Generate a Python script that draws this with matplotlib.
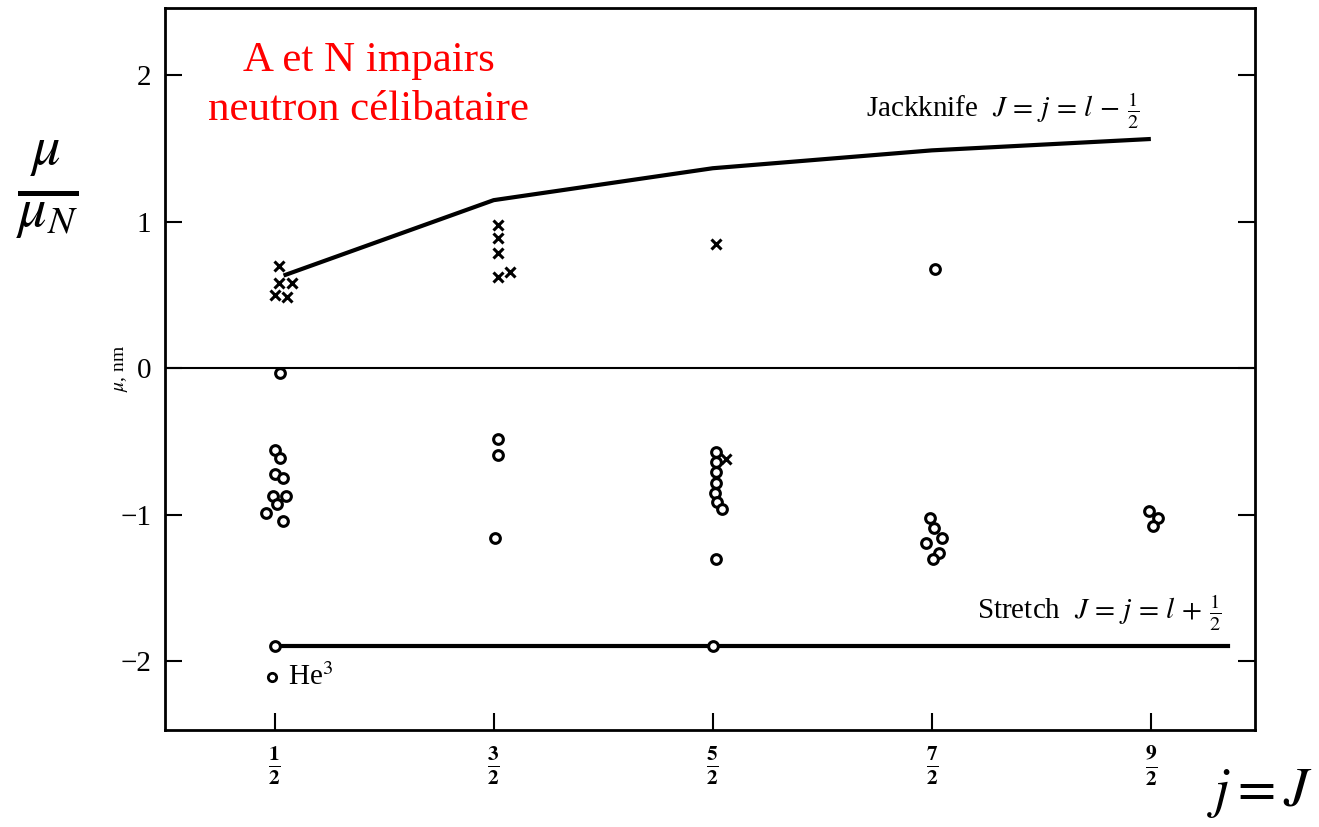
import numpy as np
import matplotlib.pyplot as plt

plt.rcParams['font.family'] = ['Liberation Serif', 'DejaVu Serif']
plt.rcParams['mathtext.fontset'] = 'stix'

# Schmidt lines (odd neutron)
jack_J = [0.55, 1.5, 2.5, 3.5, 4.49]
jack_mu = [0.638, 1.148, 1.366, 1.488, 1.565]
stretch_J = [0.5, 4.85]
stretch_mu = [-1.895, -1.895]

# measured moments, crosses
cross_J = [0.52, 0.52, 0.578, 0.50, 0.559,
           1.518, 1.518, 1.518, 1.518, 1.573,
           2.514, 2.56]
cross_mu = [0.70, 0.58, 0.58, 0.50, 0.49,
            0.975, 0.89, 0.79, 0.62, 0.66,
            0.85, -0.62]

# measured moments, circles
circ_J = [0.527, 0.50, 0.527, 0.50, 0.537, 0.495, 0.55, 0.509, 0.463, 0.537,
          1.518, 1.518, 1.505,
          2.513, 2.513, 2.513, 2.513, 2.51, 2.518, 2.54, 2.513,
          3.513, 3.49, 3.51, 3.545, 3.473, 3.533, 3.505,
          4.49, 4.53, 4.51,
          0.5, 2.5]
circ_mu = [-0.03, -0.56, -0.61, -0.72, -0.75, -0.87, -0.87, -0.93, -0.99, -1.04,
           -0.48, -0.59, -1.16,
           -0.57, -0.64, -0.71, -0.78, -0.85, -0.91, -0.96, -1.30,
           0.68, -1.02, -1.09, -1.16, -1.19, -1.26, -1.30,
           -0.975, -1.02, -1.08,
           -1.895, -1.895]

he3_J = 0.49
he3_mu = -2.11

tick_pos = [0.5, 1.5, 2.5, 3.5, 4.5]
tick_lab = [r'$\mathbf{\frac{1}{2}}$', r'$\mathbf{\frac{3}{2}}$', r'$\mathbf{\frac{5}{2}}$',
            r'$\mathbf{\frac{7}{2}}$', r'$\mathbf{\frac{9}{2}}$']

fig = plt.figure(figsize=(13.19, 8.27), dpi=100)
ax = fig.add_axes([0.1251, 0.1173, 0.8264, 0.873])

ax.axhline(0, color='black', lw=1.5)
ax.plot(jack_J, jack_mu, color='black', lw=3)
ax.plot(stretch_J, stretch_mu, color='black', lw=3)
ax.plot(cross_J, cross_mu, 'x', color='black', ms=7, mew=2.2, ls='none')
ax.plot(circ_J, circ_mu, 'o', mfc='white', mec='black', ms=7, mew=2.2, ls='none')
ax.plot([he3_J], [he3_mu], 'o', mfc='white', mec='black', ms=6, mew=2, ls='none')
ax.text(he3_J + 0.07, he3_mu, r'He$^3$', fontsize=21, va='center', ha='left')

ax.text(3.2, 1.76, r'Jackknife  $J\,=\,j\,=\,l\,-\,\frac{1}{2}$', fontsize=21,
        va='center', ha='left')
ax.text(3.705, -1.67, r'Stretch  $J\,=\,j\,=\,l\,+\,\frac{1}{2}$', fontsize=21,
        va='center', ha='left')

ax.text(0.93, 1.93, 'A et N impairs\nneutron célibataire', color='red', fontsize=31,
        ha='center', va='center', linespacing=1.35)

ax.set_xlim(0, 4.975)
ax.set_ylim(-2.47, 2.46)
ax.set_xticks(tick_pos)
ax.set_xticklabels(tick_lab, fontsize=22)
ax.set_yticks([-2, -1, 0, 1, 2])
ax.set_yticklabels(['\u22122', '\u22121', '0', '1', '2'], fontsize=21)
ax.tick_params(direction='in', length=12, width=1.5, right=True, top=False)
ax.tick_params(axis='x', pad=10)
ax.tick_params(axis='y', pad=10)
for s in ax.spines.values():
    s.set_linewidth(2)

fig.text(0.092, 0.555, r'$\mu$, nm', rotation=90, fontsize=14, ha='center', va='center')
fig.text(0.036, 0.77, r'$\frac{\mu}{\mu_N}$', fontsize=58, ha='center', va='center')
fig.text(0.955, 0.04, r'$j = J$', fontsize=40, ha='center', va='center')

fig.savefig('out.png', dpi=100)
